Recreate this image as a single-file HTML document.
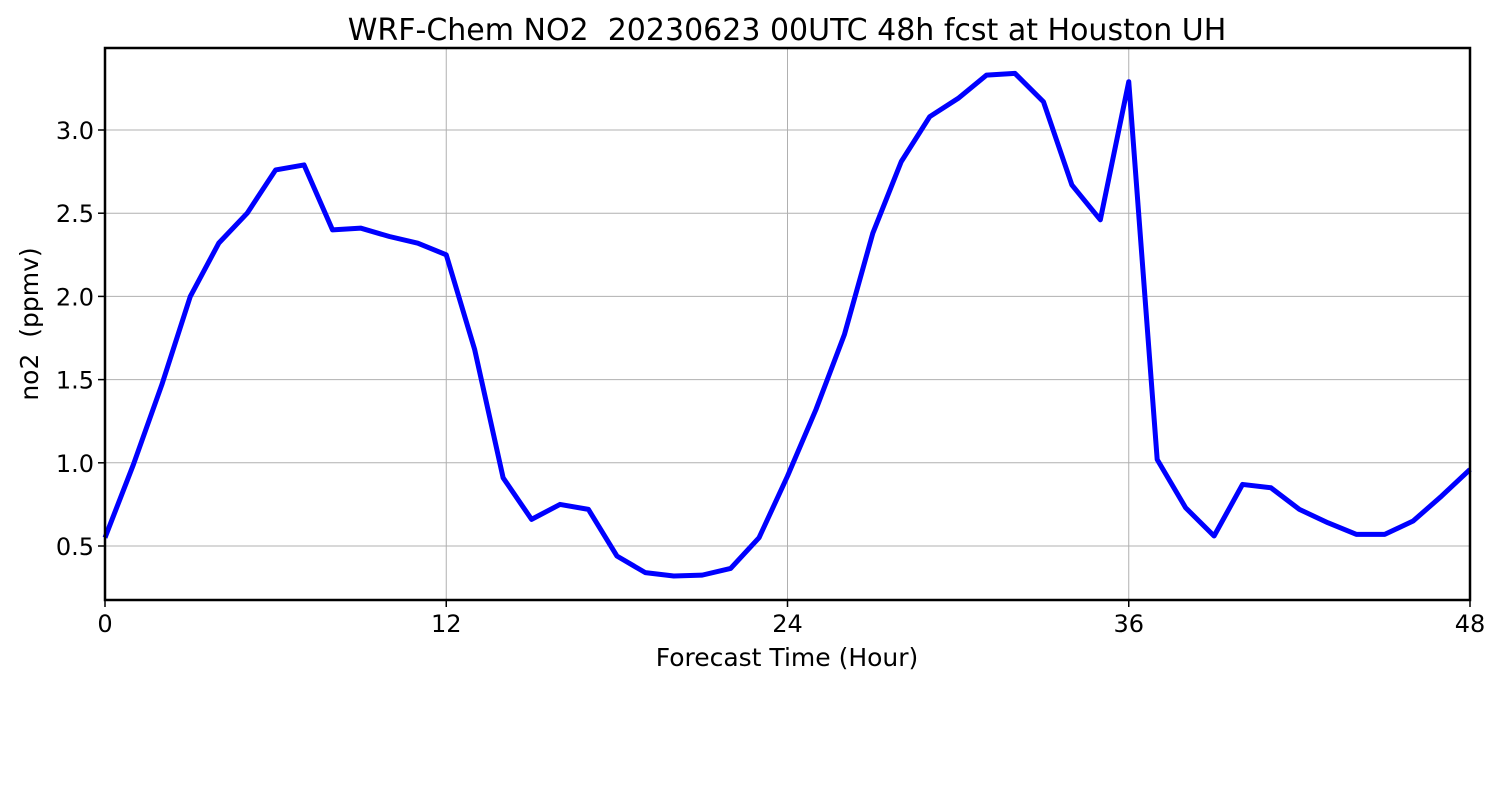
<!DOCTYPE html>
<html><head><meta charset="utf-8"><style>
body{margin:0;background:#fff;}
svg{display:block;font-family:"DejaVu Sans","Liberation Sans",sans-serif;}
text{white-space:pre;}
</style></head><body>
<svg id="chart" width="1500" height="800" viewBox="0 0 1500 800" xmlns="http://www.w3.org/2000/svg" xml:space="preserve">
<rect width="1500" height="800" fill="#fff"/>
<text x="787" y="40" font-size="30" text-anchor="middle" fill="#000">WRF-Chem NO2  20230623 00UTC 48h fcst at Houston UH</text>
<g id="grid"></g>
<g id="series"></g>
<rect x="105" y="48" width="1365" height="552" fill="none" stroke="#000" stroke-width="2.5"/>
<g id="axes"></g>
<text x="787" y="666" font-size="25" text-anchor="middle">Forecast Time (Hour)</text>
<text transform="translate(38,324) rotate(-90)" font-size="25" text-anchor="middle">no2  (ppmv)</text>
</svg>
<script>
const hours=[0,1,2,3,4,5,6,7,8,9,10,11,12,13,14,15,16,17,18,19,20,21,22,23,24,25,26,27,28,29,30,31,32,33,34,35,36,37,38,39,40,41,42,43,44,45,46,47,48];
const no2=[0.55,0.99,1.47,2.00,2.32,2.50,2.76,2.79,2.40,2.41,2.36,2.32,2.25,1.68,0.91,0.66,0.75,0.72,0.44,0.34,0.32,0.325,0.365,0.55,0.92,1.32,1.77,2.38,2.81,3.08,3.19,3.33,3.34,3.17,2.67,2.46,3.29,1.02,0.73,0.56,0.87,0.85,0.72,0.64,0.57,0.57,0.65,0.80,0.96];
const xTicks=[0,12,24,36,48];
const yTicks=[0.5,1.0,1.5,2.0,2.5,3.0];
const X0=105,X1=1470,Y0=600,Y1=48,xMin=0,xMax=48,yMin=0.1755,yMax=3.4928;
const sx=v=>X0+(v-xMin)/(xMax-xMin)*(X1-X0);
const sy=v=>Y0-(v-yMin)/(yMax-yMin)*(Y0-Y1);
const NS="http://www.w3.org/2000/svg";
const grid=document.getElementById('grid'),axes=document.getElementById('axes'),series=document.getElementById('series');
function mk(t,a,p){const e=document.createElementNS(NS,t);for(const k in a)e.setAttribute(k,a[k]);p.appendChild(e);return e;}
xTicks.forEach(t=>{
 const g=mk('line',{x1:sx(t),x2:sx(t),y1:Y1,y2:Y0,stroke:'#b0b0b0','stroke-width':1},grid);
 
 
 const k=mk('line',{x1:sx(t),x2:sx(t),y1:Y0,y2:Y0+7,stroke:'#000','stroke-width':1.5},axes);
 
 
 const l=mk('text',{x:sx(t),y:Y0+32,'font-size':24,'text-anchor':'middle'},axes);
 l.textContent=t;
 
 
});
yTicks.forEach(t=>{
 const g=mk('line',{x1:X0,x2:X1,y1:sy(t),y2:sy(t),stroke:'#b0b0b0','stroke-width':1},grid);
 
 
 const k=mk('line',{x1:X0-7,x2:X0,y1:sy(t),y2:sy(t),stroke:'#000','stroke-width':1.5},axes);
 
 
 const l=mk('text',{x:X0-11,y:sy(t)+9,'font-size':24,'text-anchor':'end'},axes);
 l.textContent=t.toFixed(1);
 
 
});
const pl=mk('polyline',{points:hours.map((h,i)=>sx(h)+','+sy(no2[i])).join(' '),fill:'none',stroke:'#0000ff','stroke-width':5,'stroke-linejoin':'round'},series);


</script>
</body></html>
